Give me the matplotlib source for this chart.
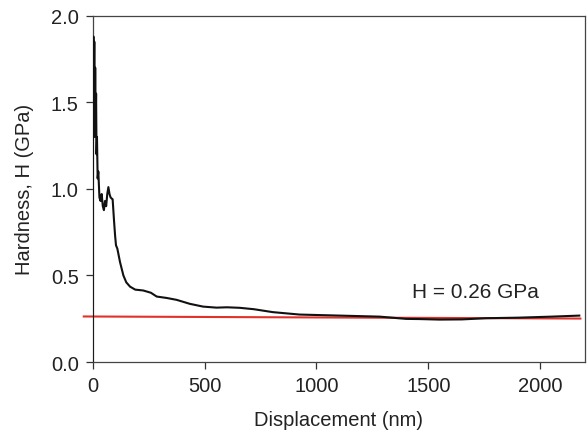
import matplotlib
matplotlib.use("Agg")
import matplotlib.pyplot as plt

plt.rcParams['font.family'] = ['Liberation Sans', 'DejaVu Sans']

# Hardness vs displacement data
displacement = [0, 1, 3, 5, 7, 9, 11, 13, 15, 17, 19, 22, 25, 30, 35, 40, 45, 50,
                55, 60, 65, 70, 75, 80, 85, 89, 95, 100, 104, 110, 122, 137, 150,
                167, 190, 226, 260, 286, 330, 375, 434, 493, 553, 600, 657, 720,
                805, 925, 1104, 1283, 1401, 1461, 1550, 1650, 1759, 1900, 2050, 2175]
hardness = [0.0, 1.2, 1.88, 1.5, 1.85, 1.3, 1.7, 1.35, 1.55, 1.2, 1.3, 1.06, 1.1,
            0.95, 0.93, 0.97, 0.9, 0.877, 0.93, 0.9, 0.97, 1.01, 0.97, 0.95, 0.944,
            0.94, 0.82, 0.73, 0.674, 0.655, 0.577, 0.50, 0.46, 0.435, 0.418, 0.413,
            0.40, 0.378, 0.37, 0.359, 0.336, 0.32, 0.314, 0.316, 0.313, 0.305,
            0.288, 0.274, 0.268, 0.262, 0.249, 0.248, 0.245, 0.246, 0.253, 0.256,
            0.262, 0.268]

fit_x = [-40, 2180]
fit_y = [0.263, 0.251]

xticks = [0, 500, 1000, 1500, 2000]
yticks = [0.0, 0.5, 1.0, 1.5, 2.0]

fig = plt.figure(figsize=(5.88, 4.35), dpi=100)
ax = fig.add_axes([0.1577, 0.1655, 0.837, 0.7961])

ax.plot(fit_x, fit_y, color='#e0322b', lw=1.5, clip_on=False, zorder=2)
ax.plot(displacement, hardness, color='#111111', lw=1.5, zorder=3)

ax.set_xlim(0, 2200)
ax.set_ylim(0, 2.0)
ax.set_xticks(xticks)
ax.set_yticks(yticks)
ax.set_yticklabels([f"{v:.1f}" for v in yticks])

for s in ax.spines.values():
    s.set_color('#444444')
    s.set_linewidth(0.9)

ax.tick_params(direction='out', length=5, width=0.9, color='#333333',
               labelsize=14.5, labelcolor='#222222', pad=5)

ax.set_xlabel("Displacement (nm)", fontsize=14.5, color='#222222', labelpad=11)
ax.set_ylabel("Hardness, H (GPa)", fontsize=14.5, color='#222222', labelpad=12)

ax.text(1425, 0.405, "H = 0.26 GPa", fontsize=15, color='#222222',
        ha='left', va='center')

fig.savefig("out.png", dpi=100)
